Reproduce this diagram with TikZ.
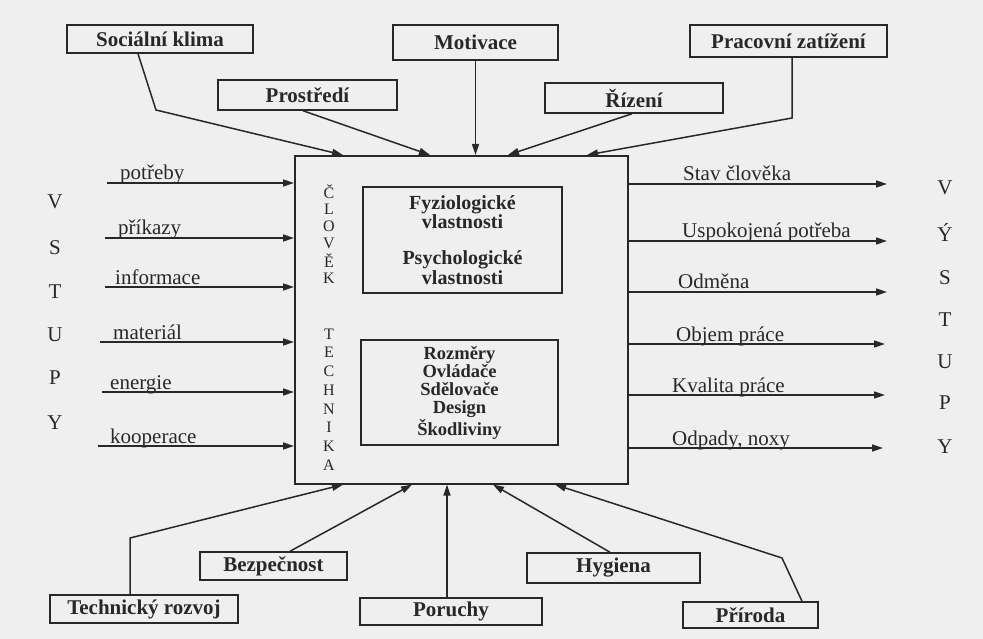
\documentclass[tikz,border=0pt]{standalone}
\usepackage{fontspec}
\setmainfont{Liberation Serif}
\usetikzlibrary{arrows.meta,calc}
\definecolor{bgcol}{RGB}{239,239,239}
\definecolor{ink}{RGB}{40,40,40}
\newcommand\labfont{\fontsize{21}{24}\selectfont}
\newcommand\smallletters{\fontsize{16}{18}\selectfont}
\begin{document}
\begin{tikzpicture}[x=1pt,y=-1pt,
  every node/.style={text=ink},
  box/.style={draw=ink, line width=1.5pt, inner sep=0pt, font=\labfont\bfseries},
  lab/.style={inner sep=0pt, font=\labfont},
  letter/.style={inner sep=0pt, font=\labfont},
  sletter/.style={inner sep=0pt, font=\smallletters},
  conn/.style={draw=ink, line width=1.5pt, -{Triangle[length=11pt,width=7pt]}},
  plain/.style={draw=ink, line width=1.5pt}]
\useasboundingbox (0,0) rectangle (983,639);
\fill[bgcol] (0,0) rectangle (983,639);

% main box
\node[draw=ink, line width=1.6pt, minimum width=333pt, minimum height=328pt, anchor=north west, inner sep=0pt] (main) at (294,155) {};

% inner boxes
\node[box, minimum width=199pt, minimum height=106pt, align=center, font=\fontsize{20}{18}\selectfont\bfseries] (fyz) at (462.5,240)
  {Fyziologické\\vlastnosti\\[18pt]Psychologické\\vlastnosti};
\node[box, minimum width=197pt, minimum height=105pt, align=center, font=\fontsize{18.5}{18.3}\selectfont\bfseries] (tech) at (459.5,392.5)
  {Rozměry\\Ovládače\\Sdělovače\\Design\\Škodliviny};

% CLOVEK / TECHNIKA letters
\foreach \ch [count=\i from 0] in {Č,L,O,V,Ě,K}
  \node[sletter] (cl\i) at (329,192+17.2*\i) {\ch};
\foreach \ch [count=\i from 0] in {T,E,C,H,N,I,K,A}
  \node[sletter] (te\i) at (329,334+18.7*\i) {\ch};

% VSTUPY / VYSTUPY letters
\node[letter] (vs1) at (55,202) {V};
\node[letter] (vs2) at (55,248) {S};
\node[letter] (vs3) at (55,292) {T};
\node[letter] (vs4) at (55,335) {U};
\node[letter] (vs5) at (55,378) {P};
\node[letter] (vs6) at (55,423) {Y};
\node[letter] (vy1) at (945,188) {V};
\node[letter] (vy2) at (945,232) {Ý};
\node[letter] (vy3) at (945,278) {S};
\node[letter] (vy4) at (945,320) {T};
\node[letter] (vy5) at (945,362) {U};
\node[letter] (vy6) at (945,403) {P};
\node[letter] (vy7) at (945,447) {Y};

% inputs
\coordinate (i1) at (107,183);
\coordinate (i2) at (105,238);
\coordinate (i3) at (105,287);
\coordinate (i4) at (100,342);
\coordinate (i5) at (102,392);
\coordinate (i6) at (98,446);
\node[lab, anchor=base west] (li1) at (120,180) {potřeby};
\node[lab, anchor=base west] (li2) at (118,235) {příkazy};
\node[lab, anchor=base west] (li3) at (115,284) {informace};
\node[lab, anchor=base west] (li4) at (113,339) {materiál};
\node[lab, anchor=base west] (li5) at (110,389) {energie};
\node[lab, anchor=base west] (li6) at (110,443) {kooperace};
\foreach \k in {1,...,6}
  \draw[conn] (i\k) -- (i\k -| main.west);

% outputs
\coordinate (o1) at (887,184);
\coordinate (o2) at (887,241);
\coordinate (o3) at (887,292);
\coordinate (o4) at (885,344);
\coordinate (o5) at (885,395);
\coordinate (o6) at (883,448);
\node[lab, anchor=base west] (lo1) at (683,181) {Stav člověka};
\node[lab, anchor=base west] (lo2) at (682,238) {Uspokojená potřeba};
\node[lab, anchor=base west] (lo3) at (678,289) {Odměna};
\node[lab, anchor=base west] (lo4) at (676,341) {Objem práce};
\node[lab, anchor=base west] (lo5) at (672,392) {Kvalita práce};
\node[lab, anchor=base west] (lo6) at (672,445) {Odpady, noxy};
\foreach \k in {1,...,6}
  \draw[conn] (o\k -| main.east) -- (o\k);

% top boxes
\node[box, minimum width=186pt, minimum height=28pt] (soc) at (160,39) {Sociální klima};
\node[box, minimum width=165pt, minimum height=35pt] (mot) at (475.5,42.5) {Motivace};
\node[box, minimum width=197pt, minimum height=32pt] (pra) at (788.5,41) {Pracovní zatížení};
\node[box, minimum width=179pt, minimum height=30pt] (pro) at (307.5,95) {Prostředí};
\node[box, minimum width=178pt, minimum height=30pt] (riz) at (634,98) {Řízení};

% bottom boxes
\node[box, minimum width=188pt, minimum height=28pt] (roz) at (144,609) {Technický rozvoj};
\node[box, minimum width=147pt, minimum height=28pt] (bez) at (273.5,566) {Bezpečnost};
\node[box, minimum width=182pt, minimum height=27pt] (por) at (451,611.5) {Poruchy};
\node[box, minimum width=173pt, minimum height=30pt] (hyg) at (613.5,568) {Hygiena};
\node[box, minimum width=135pt, minimum height=26pt] (pri) at (750.5,615) {Příroda};

% top connectors
\coordinate (b1) at (156,110);
\coordinate (x1) at (138,0);
\coordinate (x2) at (303,0);
\coordinate (x4) at (632,0);
\coordinate (b5) at (792,118);
\draw[conn] (soc.south -| x1) -- (b1) -- ($(main.north west)+(49,0)$);
\draw[conn] (pro.south -| x2) -- ($(main.north west)+(136,0)$);
\draw[conn] (mot.south) -- (mot.south |- main.north);
\draw[conn] (riz.south -| x4) -- ($(main.north west)+(214,0)$);
\draw[conn] (pra.south -| b5) -- (b5) -- ($(main.north west)+(293,0)$);

% bottom connectors
\coordinate (b6) at (130,538);
\coordinate (x7) at (290,0);
\coordinate (x8) at (447,0);
\coordinate (x9) at (610,0);
\coordinate (x10) at (802,0);
\coordinate (b10) at (782,558);
\draw[conn] (roz.north -| b6) -- (b6) -- ($(main.south west)+(49,0)$);
\draw[conn] (bez.north -| x7) -- ($(main.south west)+(118,0)$);
\draw[conn] (por.north -| x8) -- (main.south -| x8);
\draw[conn] (hyg.north -| x9) -- ($(main.south west)+(199,0)$);
\draw[conn] (pri.north -| x10) -- (b10) -- ($(main.south west)+(261,0)$);
\end{tikzpicture}
\end{document}
